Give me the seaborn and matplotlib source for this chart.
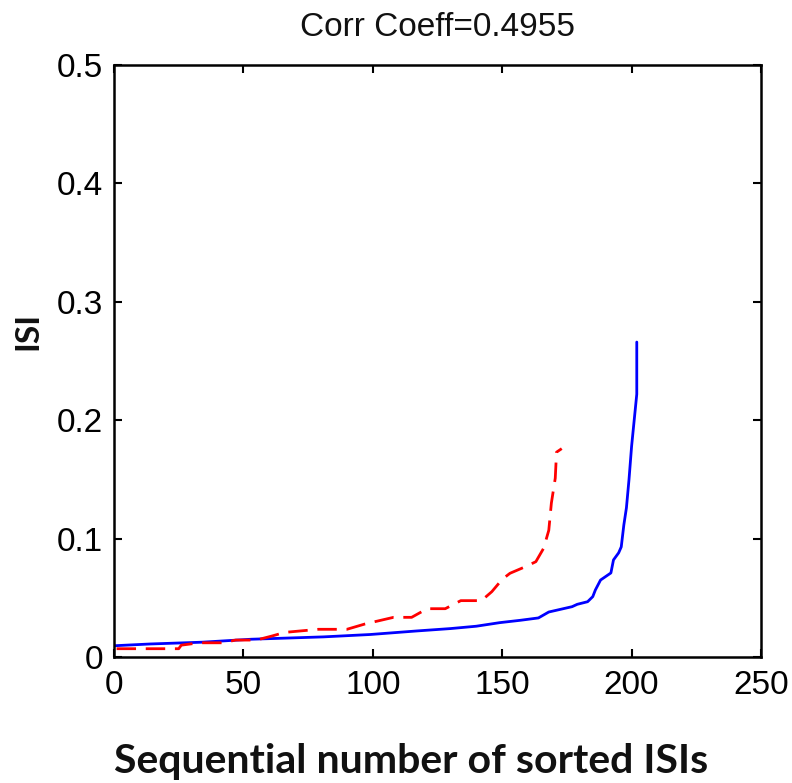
import matplotlib
matplotlib.use("Agg")
import matplotlib.pyplot as plt
import seaborn as sns
import pandas as pd

# Data (sorted ISIs, sequential index vs ISI value)
blue_idx = [0, 14, 34, 53, 81, 99, 117, 130, 140, 149, 157, 164, 168, 173, 177,
            179, 183, 185, 186, 188, 192, 193, 195, 196, 197, 198, 199, 200, 202, 202]
blue_isi = [0.0095, 0.011, 0.0125, 0.015, 0.017, 0.019, 0.022, 0.024, 0.026, 0.029,
            0.031, 0.033, 0.038, 0.0405, 0.0425, 0.0445, 0.0467, 0.051, 0.0566, 0.065,
            0.071, 0.082, 0.088, 0.093, 0.1115, 0.126, 0.150, 0.178, 0.222, 0.266]

red_idx = [1, 14, 25, 26, 33, 42, 47, 55, 61, 66, 79, 90, 97, 108, 115, 121, 128,
           134, 142, 146, 150, 153, 159, 163, 166, 168, 169, 170.5, 171, 173]
red_isi = [0.007, 0.007, 0.007, 0.010, 0.012, 0.012, 0.0143, 0.0143, 0.0177, 0.0208,
           0.0234, 0.0234, 0.0279, 0.0335, 0.0335, 0.0408, 0.0408, 0.0476, 0.0476,
           0.0552, 0.0656, 0.0707, 0.0763, 0.0805, 0.0918, 0.107, 0.130, 0.151, 0.173, 0.176]

x_ticks = [0, 50, 100, 150, 200, 250]
y_ticks = [0, 0.1, 0.2, 0.3, 0.4, 0.5]
y_tick_labels = ["0", "0.1", "0.2", "0.3", "0.4", "0.5"]
title_text = "Corr Coeff=0.4955"
x_label = "Sequential number of sorted ISIs"
y_label = "ISI"

sns.set_style("white")
plt.rcParams['font.family'] = ['Liberation Sans', 'DejaVu Sans']

fig = plt.figure(figsize=(7.92, 7.83), dpi=100)
ax = fig.add_axes([114/792, 1 - 657/783, (761 - 114)/792, (657 - 65)/783])

df_blue = pd.DataFrame({"idx": blue_idx, "isi": blue_isi})
df_red = pd.DataFrame({"idx": red_idx, "isi": red_isi})

sns.lineplot(data=df_blue, x="idx", y="isi", ax=ax, color="#0000ff", lw=2.0,
             sort=False, estimator=None)
sns.lineplot(data=df_red, x="idx", y="isi", ax=ax, color="#ff0000", lw=2.0,
             sort=False, estimator=None, dashes=False)
ax.lines[-1].set_dashes((7, 3.5))

ax.set_xlim(0, 250)
ax.set_ylim(0, 0.5)
ax.set_xticks(x_ticks)
ax.set_xticklabels([str(t) for t in x_ticks])
ax.set_yticks(y_ticks)
ax.set_yticklabels(y_tick_labels)

ax.tick_params(direction="in", length=6, width=1.5, labelsize=24, colors="black",
               top=True, right=True, bottom=True, left=True, pad=8)
ax.tick_params(axis="x", pad=9)
for s in ax.spines.values():
    s.set_visible(True)
    s.set_color("black")
    s.set_linewidth(1.8)

ax.set_title(title_text, fontsize=24, pad=21, color="#111111")
ax.set_xlabel(x_label, fontsize=29.5, fontweight="bold", family=["Lato", "DejaVu Sans"],
              color="#111111")
ax.xaxis.set_label_coords((411 - 114) / (761 - 114), -(762 - 657) / (657 - 65))
ax.xaxis.label.set_va("center")
ax.set_ylabel(y_label, fontsize=24, fontweight="bold", family=["Lato", "DejaVu Sans"],
              color="#111111")
ax.yaxis.set_label_coords(-(114 - 28) / (761 - 114), (657 - 331) / (657 - 65))
ax.yaxis.label.set_va("center")

fig.savefig("out.png", dpi=100, facecolor="white")
